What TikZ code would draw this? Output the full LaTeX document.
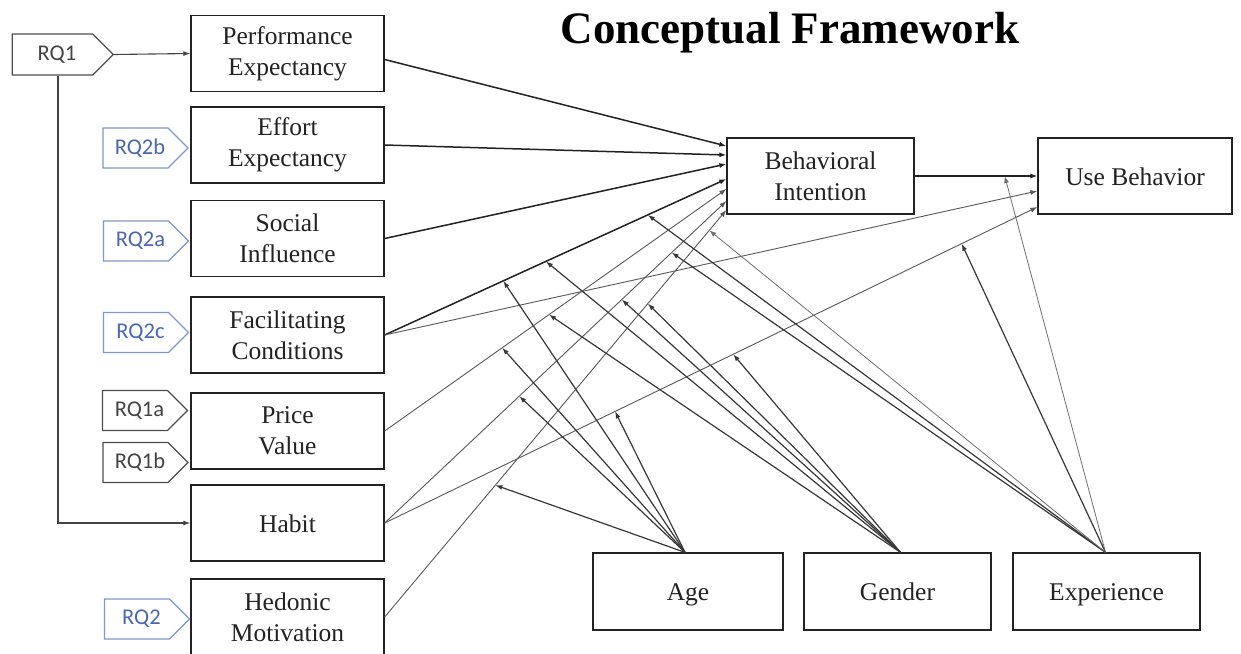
\documentclass[tikz,border=0pt]{standalone}
\usepackage{fontspec}
\setmainfont{Liberation Serif}
\newfontfamily\tagfont{Carlito}
\usetikzlibrary{shapes.symbols,arrows.meta,calc}
\definecolor{rqblue}{RGB}{74,104,176}
\definecolor{rqblueline}{RGB}{125,152,205}
\definecolor{ink}{RGB}{34,34,34}
\begin{document}
\begin{tikzpicture}[x=1pt,y=-1pt,
  box/.style={draw=ink,line width=1.3pt,minimum width=193pt,minimum height=76pt,inner sep=0pt,align=center,font=\fontsize{25.5}{31}\selectfont,text=ink},
  onebox/.style={box,text height=18pt,text depth=0pt},
  tagbox/.style={signal,signal to=east,signal pointer angle=90,draw=ink!80,line width=1.1pt,minimum width=85pt,minimum height=40pt,inner sep=0pt,font=\tagfont\fontsize{22.5}{26}\selectfont,text=ink!85,execute at begin node=\hspace*{9pt}},
  bluetag/.style={tagbox,draw=rqblueline,text=rqblue},
  arr/.style={-{Latex[length=7pt,width=5pt]}},
  main/.style={arr,draw=ink,line width=1.5pt},
  thinl/.style={arr,draw=ink!75,line width=0.9pt},
  mod/.style={arr,draw=ink!90,line width=1.2pt},
  modthin/.style={arr,draw=ink!65,line width=0.8pt},
  rqline/.style={arr,draw=ink!85,line width=1.1pt},
]
\useasboundingbox (0,0) rectangle (1241,653);
\fill[white] (0,0) rectangle (1241,653);

\node[font=\bfseries\fontsize{45}{50}\selectfont,anchor=base,text=black] (title) at (790,43) {Conceptual Framework};

% left constructs
\node[box] (pe) at (287.5,53.5) {Performance\\Expectancy};
\node[box] (ee) at (287.5,145) {Effort\\Expectancy};
\node[box] (si) at (287.5,238.5) {Social\\Influence};
\node[box] (fc) at (287.5,335) {Facilitating\\Conditions};
\node[box] (pv) at (287.5,431) {Price\\Value};
\node[onebox] (ht) at (287.5,523) {Habit};
\node[box] (hm) at (287.5,617) {Hedonic\\Motivation};

% outcomes
\node[box,minimum width=187pt] (bi) at (820.5,176) {Behavioral\\Intention};
\node[onebox,minimum width=194pt] (ub) at (1135,176) {Use Behavior};

% moderators
\node[onebox,minimum width=190pt,minimum height=77pt] (age) at (688,591.5) {Age};
\node[onebox,minimum width=187pt,minimum height=77pt] (gen) at (897.5,591.5) {Gender};
\node[onebox,minimum width=187pt,minimum height=77pt] (exp) at (1106.5,591.5) {Experience};

% RQ tags
\node[tagbox,minimum width=101pt,minimum height=41pt] (rq1) at (52.5,54.5) {RQ1};
\node[bluetag] (rq2b) at (135.5,148) {RQ2b};
\node[bluetag] (rq2a) at (136,241) {RQ2a};
\node[bluetag] (rq2c) at (136,332.5) {RQ2c};
\node[tagbox] (rq1a) at (135,410.5) {RQ1a};
\node[tagbox] (rq1b) at (135.5,462.5) {RQ1b};
\node[bluetag] (rq2) at (137,619) {RQ2};

\draw[rqline] (rq1.east) -- (pe.west);
\draw[rqline] (rq1.south) ++(5.5,0) |- (ht.west);

% paths to BI / UB
\draw[main] ([yshift=-6pt]pe.east) -- ([yshift=30pt]bi.west);
\draw[main] (ee.east) -- ([yshift=21pt]bi.west);
\draw[main] (si.east) -- ([yshift=12pt]bi.west);
\draw[main] (fc.east) -- ([yshift=-3pt]bi.west)
  coordinate[pos=0.347] (fcA) coordinate[pos=0.472] (fcG) coordinate[pos=0.77] (fcE);
\draw[thinl] (pv.east) -- ([yshift=-13pt]bi.west)
  coordinate[pos=0.344] (pvA) coordinate[pos=0.481] (pvG);
\draw[thinl] (ht.east) -- ([yshift=-25pt]bi.west)
  coordinate[pos=0.394] (htA) coordinate[pos=0.694] (htG) coordinate[pos=0.84] (htE);
\draw[thinl] (hm.east) -- ([yshift=-34pt]bi.west)
  coordinate[pos=0.324] (hmA) coordinate[pos=0.77] (hmG) coordinate[pos=0.95] (hmE);
\draw[thinl] (fc.east) -- ([yshift=-15pt]ub.west);
\draw[thinl] (ht.east) -- ([yshift=-31pt]ub.west)
  coordinate[pos=0.353] (huA) coordinate[pos=0.534] (huG) coordinate[pos=0.884] (huE);
\draw[main] (bi.east) -- (ub.west) coordinate[pos=0.734] (bu);

% moderator origins
\coordinate (ageT) at ([xshift=-3pt]age.north);
\coordinate (genT) at ([xshift=3pt]gen.north);
\coordinate (expT) at ([xshift=-1pt]exp.north);

% age
\draw[mod] (ageT) -- (fcA);
\draw[mod] (ageT) -- (pvA);
\draw[mod] (ageT) -- (htA);
\draw[mod] (ageT) -- (hmA);
\draw[mod] (ageT) -- (huA);
% gender
\draw[mod] (genT) -- (fcG);
\draw[mod] (genT) -- (pvG);
\draw[mod] (genT) -- (htG);
\draw[mod] (genT) -- (hmG);
\draw[mod] (genT) -- (huG);
% experience
\draw[mod] (expT) -- (fcE);
\draw[mod] (expT) -- (htE);
\draw[modthin] (expT) -- (hmE);
\draw[mod] (expT) -- (huE);
\draw[modthin] (expT) -- (bu);
\end{tikzpicture}
\end{document}
